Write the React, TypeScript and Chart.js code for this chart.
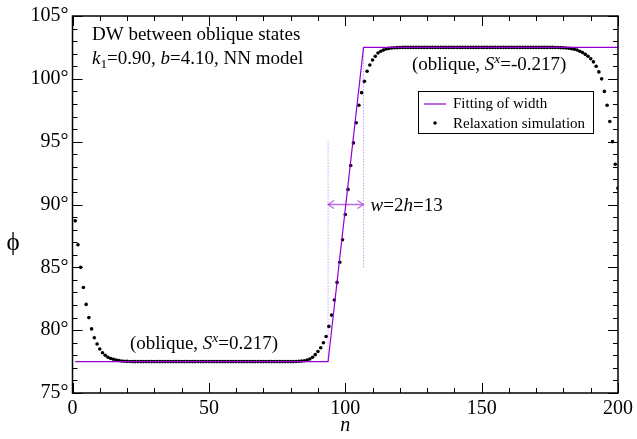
import React, { useEffect, useRef } from "react";
import { Chart, registerables } from "chart.js";

Chart.register(...registerables);

// ---- data ----
const nValues: number[] = Array.from({ length: 200 }, (_, i) => i + 1);
const phiValues: number[] = [
  88.7, 86.8, 85.0, 83.4, 82.05, 81.0, 80.1, 79.4, 78.9, 78.5,
  78.2, 78.0, 77.85, 77.75, 77.68, 77.62, 77.58, 77.55, 77.53, 77.52,
  77.51, 77.5, 77.5, 77.5, 77.5, 77.5, 77.5, 77.5, 77.5, 77.5,
  77.5, 77.5, 77.5, 77.5, 77.5, 77.5, 77.5, 77.5, 77.5, 77.5,
  77.5, 77.5, 77.5, 77.5, 77.5, 77.5, 77.5, 77.5, 77.5, 77.5,
  77.5, 77.5, 77.5, 77.5, 77.5, 77.5, 77.5, 77.5, 77.5, 77.5,
  77.5, 77.5, 77.5, 77.5, 77.5, 77.5, 77.5, 77.5, 77.5, 77.5,
  77.5, 77.5, 77.5, 77.5, 77.5, 77.5, 77.5, 77.5, 77.5, 77.5,
  77.5, 77.51, 77.52, 77.54, 77.57, 77.62, 77.7, 77.85, 78.05, 78.3,
  78.6, 79.0, 79.5, 80.3, 81.2, 82.4, 83.8, 85.4, 87.2, 89.2,
  91.2, 93.1, 94.9, 96.5, 97.9, 98.9, 99.8, 100.6, 101.1, 101.5,
  101.8, 102.05, 102.2, 102.3, 102.37, 102.42, 102.45, 102.47, 102.48, 102.49,
  102.5, 102.5, 102.5, 102.5, 102.5, 102.5, 102.5, 102.5, 102.5, 102.5,
  102.5, 102.5, 102.5, 102.5, 102.5, 102.5, 102.5, 102.5, 102.5, 102.5,
  102.5, 102.5, 102.5, 102.5, 102.5, 102.5, 102.5, 102.5, 102.5, 102.5,
  102.5, 102.5, 102.5, 102.5, 102.5, 102.5, 102.5, 102.5, 102.5, 102.5,
  102.5, 102.5, 102.5, 102.5, 102.5, 102.5, 102.5, 102.5, 102.5, 102.5,
  102.5, 102.5, 102.5, 102.5, 102.5, 102.5, 102.49, 102.49, 102.48, 102.47,
  102.45, 102.43, 102.4, 102.36, 102.3, 102.2, 102.1, 101.95, 101.8, 101.6,
  101.35, 101.0, 100.55, 100.0, 99.0, 97.9, 96.6, 95.0, 93.2, 91.3,
];
const fitX: number[] = [1, 93.7, 106.7, 200];
const fitY: number[] = [77.5, 77.5, 102.5, 102.5];
const leftGuideX: number[] = [93.7, 93.7];
const leftGuideY: number[] = [77.5, 95];
const rightGuideX: number[] = [106.7, 106.7];
const rightGuideY: number[] = [102.5, 85];
const arrowX: number[] = [93.7, 106.7];
const arrowY: number[] = [90, 90];
const xTicksMajor: number[] = [0, 50, 100, 150, 200];
const yTicksMajor: number[] = [75, 80, 85, 90, 95, 100, 105];

const FAMILY = "'Liberation Serif', 'Times New Roman', serif";
const PURPLE = "#9400d3";
const LIGHT_PURPLE = "rgba(160, 60, 220, 0.75)";

type Part = { t: string; italic?: boolean; sub?: boolean; sup?: boolean };

function drawRich(ctx: CanvasRenderingContext2D, x: number, y: number, parts: Part[], size: number) {
  let cx = x;
  ctx.textAlign = "left";
  ctx.textBaseline = "alphabetic";
  for (const p of parts) {
    const small = p.sub || p.sup;
    const fs = small ? size * 0.7 : size;
    ctx.font = `${p.italic ? "italic " : ""}${fs}px ${FAMILY}`;
    const dy = p.sub ? size * 0.22 : p.sup ? -size * 0.36 : 0;
    ctx.fillText(p.t, cx, y + dy);
    cx += ctx.measureText(p.t).width;
  }
}

const decorPlugin = {
  id: "decor",
  afterDraw(chart: any) {
    const ctx: CanvasRenderingContext2D = chart.ctx;
    const xs = chart.scales.x;
    const ys = chart.scales.y;
    const { left, right, top, bottom } = chart.chartArea;
    ctx.save();

    // frame
    ctx.strokeStyle = "#000";
    ctx.lineWidth = 1.5;
    ctx.strokeRect(left, top, right - left, bottom - top);

    // ticks (inward)
    ctx.lineWidth = 1;
    for (let v = 0; v <= 200; v += 10) {
      const px = Math.round(xs.getPixelForValue(v)) + 0.5;
      const len = v % 50 === 0 ? 10 : 5;
      ctx.beginPath();
      ctx.moveTo(px, bottom);
      ctx.lineTo(px, bottom - len);
      ctx.moveTo(px, top);
      ctx.lineTo(px, top + len);
      ctx.stroke();
    }
    for (let v = 75; v <= 105; v += 1) {
      const py = Math.round(ys.getPixelForValue(v)) + 0.5;
      const len = v % 5 === 0 ? 10 : 5;
      ctx.beginPath();
      ctx.moveTo(left, py);
      ctx.lineTo(left + len, py);
      ctx.moveTo(right, py);
      ctx.lineTo(right - len, py);
      ctx.stroke();
    }

    // arrow heads
    const ay = ys.getPixelForValue(arrowY[0]);
    const ax1 = xs.getPixelForValue(arrowX[0]);
    const ax2 = xs.getPixelForValue(arrowX[1]);
    ctx.strokeStyle = LIGHT_PURPLE;
    ctx.lineWidth = 1.3;
    ctx.beginPath();
    ctx.moveTo(ax1 + 6, ay - 4);
    ctx.lineTo(ax1, ay);
    ctx.lineTo(ax1 + 6, ay + 4);
    ctx.moveTo(ax2 - 6, ay - 4);
    ctx.lineTo(ax2, ay);
    ctx.lineTo(ax2 - 6, ay + 4);
    ctx.stroke();

    ctx.fillStyle = "#000";
    // annotations
    drawRich(ctx, 92, 40, [{ t: "DW between oblique states" }], 19);
    drawRich(ctx, 92, 64, [
      { t: "k", italic: true }, { t: "1", sub: true }, { t: "=0.90, " },
      { t: "b", italic: true }, { t: "=4.10, NN model" },
    ], 19);
    drawRich(ctx, 412, 70, [
      { t: "(oblique, " }, { t: "S", italic: true }, { t: "x", italic: true, sup: true }, { t: "=-0.217)" },
    ], 19);
    drawRich(ctx, 130, 349, [
      { t: "(oblique, " }, { t: "S", italic: true }, { t: "x", italic: true, sup: true }, { t: "=0.217)" },
    ], 19);
    drawRich(ctx, ax2 + 7, ay + 6, [
      { t: "w", italic: true }, { t: "=2" }, { t: "h", italic: true }, { t: "=13" },
    ], 19);

    // axis titles
    ctx.font = `25px ${FAMILY}`;
    ctx.textAlign = "center";
    ctx.textBaseline = "middle";
    ctx.fillText("\u03d5", 13, 243);
    ctx.font = `italic 20px ${FAMILY}`;
    ctx.fillText("n", (left + right) / 2, 426);

    // legend
    const lx = 418, ly = 91, lw = 175, lh = 42;
    ctx.strokeStyle = "#000";
    ctx.lineWidth = 1;
    ctx.strokeRect(lx + 0.5, ly + 0.5, lw, lh);
    ctx.strokeStyle = PURPLE;
    ctx.lineWidth = 1.2;
    ctx.beginPath();
    ctx.moveTo(424, 104);
    ctx.lineTo(446, 104);
    ctx.stroke();
    ctx.fillStyle = "#000";
    ctx.beginPath();
    ctx.arc(435, 123, 1.8, 0, Math.PI * 2);
    ctx.fill();
    ctx.font = `15px ${FAMILY}`;
    ctx.textAlign = "left";
    ctx.textBaseline = "alphabetic";
    ctx.fillText("Fitting of width", 453, 108);
    ctx.fillText("Relaxation simulation", 453, 128);

    ctx.restore();
  },
};

export default function App() {
  const canvasRef = useRef<HTMLCanvasElement | null>(null);

  useEffect(() => {
    const canvas = canvasRef.current;
    if (!canvas) return;
    const chart = new Chart(canvas, {
      type: "scatter",
      data: {
        datasets: [
          {
            type: "line",
            label: "Fitting of width",
            data: fitX.map((x, i) => ({ x, y: fitY[i] })),
            borderColor: PURPLE,
            borderWidth: 1.2,
            pointRadius: 0,
            fill: false,
            tension: 0,
          },
          {
            type: "line",
            label: "guide left",
            data: leftGuideX.map((x, i) => ({ x, y: leftGuideY[i] })),
            borderColor: LIGHT_PURPLE,
            borderWidth: 1,
            borderDash: [1, 2],
            pointRadius: 0,
            fill: false,
          },
          {
            type: "line",
            label: "guide right",
            data: rightGuideX.map((x, i) => ({ x, y: rightGuideY[i] })),
            borderColor: LIGHT_PURPLE,
            borderWidth: 1,
            borderDash: [1, 2],
            pointRadius: 0,
            fill: false,
          },
          {
            type: "line",
            label: "width arrow",
            data: arrowX.map((x, i) => ({ x, y: arrowY[i] })),
            borderColor: LIGHT_PURPLE,
            borderWidth: 1.3,
            pointRadius: 0,
            fill: false,
          },
          {
            type: "scatter",
            label: "Relaxation simulation",
            data: nValues.map((x, i) => ({ x, y: phiValues[i] })),
            backgroundColor: "#000",
            borderColor: "#000",
            borderWidth: 0,
            pointRadius: 1.8,
          },
        ],
      },
      options: {
        animation: false,
        responsive: false,
        layout: { padding: { left: 0, right: 16, top: 10, bottom: 10 } },
        plugins: { legend: { display: false }, tooltip: { enabled: false } },
        scales: {
          x: {
            type: "linear",
            min: 0,
            max: 200,
            afterFit: (s: any) => { s.height = 36; },
            afterBuildTicks: (s: any) => { s.ticks = xTicksMajor.map((v) => ({ value: v })); },
            grid: { display: false, drawTicks: false },
            border: { display: false },
            ticks: {
              color: "#000",
              padding: 4,
              maxRotation: 0,
              font: { family: FAMILY, size: 20 },
            },
          },
          y: {
            type: "linear",
            min: 75,
            max: 105,
            afterFit: (s: any) => { s.width = 72.5; },
            afterBuildTicks: (s: any) => { s.ticks = yTicksMajor.map((v) => ({ value: v })); },
            grid: { display: false, drawTicks: false },
            border: { display: false },
            ticks: {
              color: "#000",
              padding: 4,
              font: { family: FAMILY, size: 20 },
              callback: (v: any) => `${v}\u00b0`,
            },
          },
        },
      },
      plugins: [decorPlugin],
    } as any);
    return () => chart.destroy();
  }, []);

  return (
    <div style={{ position: "absolute", left: 0, top: 0, width: 637, height: 439, background: "#fff" }}>
      <canvas ref={canvasRef} width={637} height={439} style={{ display: "block" }} />
    </div>
  );
}
